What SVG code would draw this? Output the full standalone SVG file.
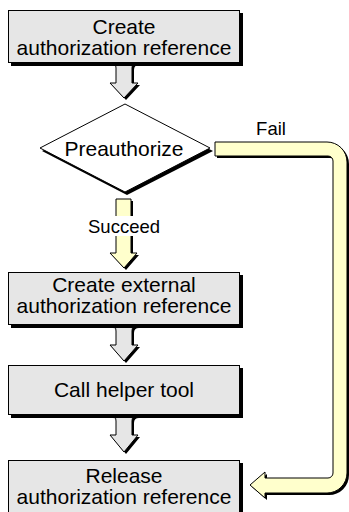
<svg xmlns="http://www.w3.org/2000/svg" width="349" height="512" viewBox="0 0 349 512">
<style>
.box{fill:#e6e6e6;stroke:#000;stroke-width:1}
.sh{fill:#000}
.garrow{fill:#e6e6e6;stroke:#000;stroke-width:1;stroke-linejoin:miter}
.yarrow{fill:#ffffcc;stroke:#000;stroke-width:1}
.t{font-family:"Liberation Sans",Arial,sans-serif;font-size:21px;fill:#000;text-anchor:middle}
.lbl{font-family:"Liberation Sans",Arial,sans-serif;font-size:18.5px;fill:#000;text-anchor:middle}
</style>
<g id="connectors">
  <g id="c1">
    <path class="sh" d="M113,65 Q118,65 118,70 L118,85 L112,85 L126,100 L140,85 L134,85 L134,70 Q134,65 139,65 Z"/>
    <path class="garrow" d="M111,62.5 Q116,62.5 116,68 L116,83 L110,83 L124,98 L138,83 L132,83 L132,68 Q132,62.5 137,62.5"/>
  </g>
  <g id="c2">
    <path class="sh" d="M118,201 L133,201 L133,255 L139,255 L126,270 L112,255 L118,255 Z"/>
    <path class="yarrow" d="M116,199 L131,199 L131,253 L137,253 L124,268 L110,253 L116,253 Z"/>
    <rect x="84" y="216" width="80" height="20" fill="#fff"/>
    <text class="lbl" x="124" y="233">Succeed</text>
  </g>
  <g id="c3">
    <path class="sh" d="M113,328 Q118,328 118,333 L118,347 L112,347 L126,363 L140,347 L134,347 L134,333 Q134,328 139,328 Z"/>
    <path class="garrow" d="M111,325.5 Q116,325.5 116,331 L116,345 L110,345 L124,361 L138,345 L132,345 L132,331 Q132,325.5 137,325.5"/>
  </g>
  <g id="c4">
    <path class="sh" d="M113,418 Q118,418 118,423 L118,437 L112,437 L126,454 L140,437 L134,437 L134,423 Q134,418 139,418 Z"/>
    <path class="garrow" d="M111,415.5 Q116,415.5 116,421 L116,435 L110,435 L124,452 L138,435 L132,435 L132,421 Q132,415.5 137,415.5"/>
  </g>
  <g id="c5">
    <path class="sh" transform="translate(2,2)" d="M215,142 L327,142 A20 20 0 0 1 347,162 L347,473 A20 20 0 0 1 327,493 L265,493 L265,498 L250,485 L265,472 L265,478 L328,478 A5 5 0 0 0 333,473 L333,161 A5 5 0 0 0 328,156 L215,156 Z"/>
    <path class="yarrow" d="M215,142 L327,142 A20 20 0 0 1 347,162 L347,473 A20 20 0 0 1 327,493 L265,493 L265,498 L250,485 L265,472 L265,478 L328,478 A5 5 0 0 0 333,473 L333,161 A5 5 0 0 0 328,156 L215,156 Z"/>
    <text class="lbl" x="271" y="135">Fail</text>
  </g>
</g>
<g id="n1">
  <rect class="sh" x="11" y="13" width="232" height="53"/>
  <rect class="box" x="8.5" y="10.5" width="231" height="52"/>
  <text class="t" x="124" y="34">Create</text>
  <text class="t" x="124" y="55">authorization reference</text>
</g>
<g id="n2">
  <path class="sh" d="M127,107 L213,151 L127,195 L42,151 Z"/>
  <path d="M125,104 L210,148 L125,192 L40,148 Z" fill="#fff" stroke="#000" stroke-width="1"/>
  <text class="t" x="124" y="156">Preauthorize</text>
</g>
<g id="n3">
  <rect class="sh" x="11" y="275" width="232" height="53"/>
  <rect class="box" x="8.5" y="272.5" width="231" height="52"/>
  <text class="t" x="124" y="292">Create external</text>
  <text class="t" x="124" y="313">authorization reference</text>
</g>
<g id="n4">
  <rect class="sh" x="11" y="368" width="232" height="50"/>
  <rect class="box" x="8.5" y="365.5" width="231" height="49"/>
  <text class="t" x="124" y="397">Call helper tool</text>
</g>
<g id="n5">
  <rect class="sh" x="11" y="463" width="232" height="60"/>
  <rect class="box" x="8.5" y="460.5" width="231" height="60"/>
  <text class="t" x="124" y="483">Release</text>
  <text class="t" x="124" y="504">authorization reference</text>
</g>
</svg>
